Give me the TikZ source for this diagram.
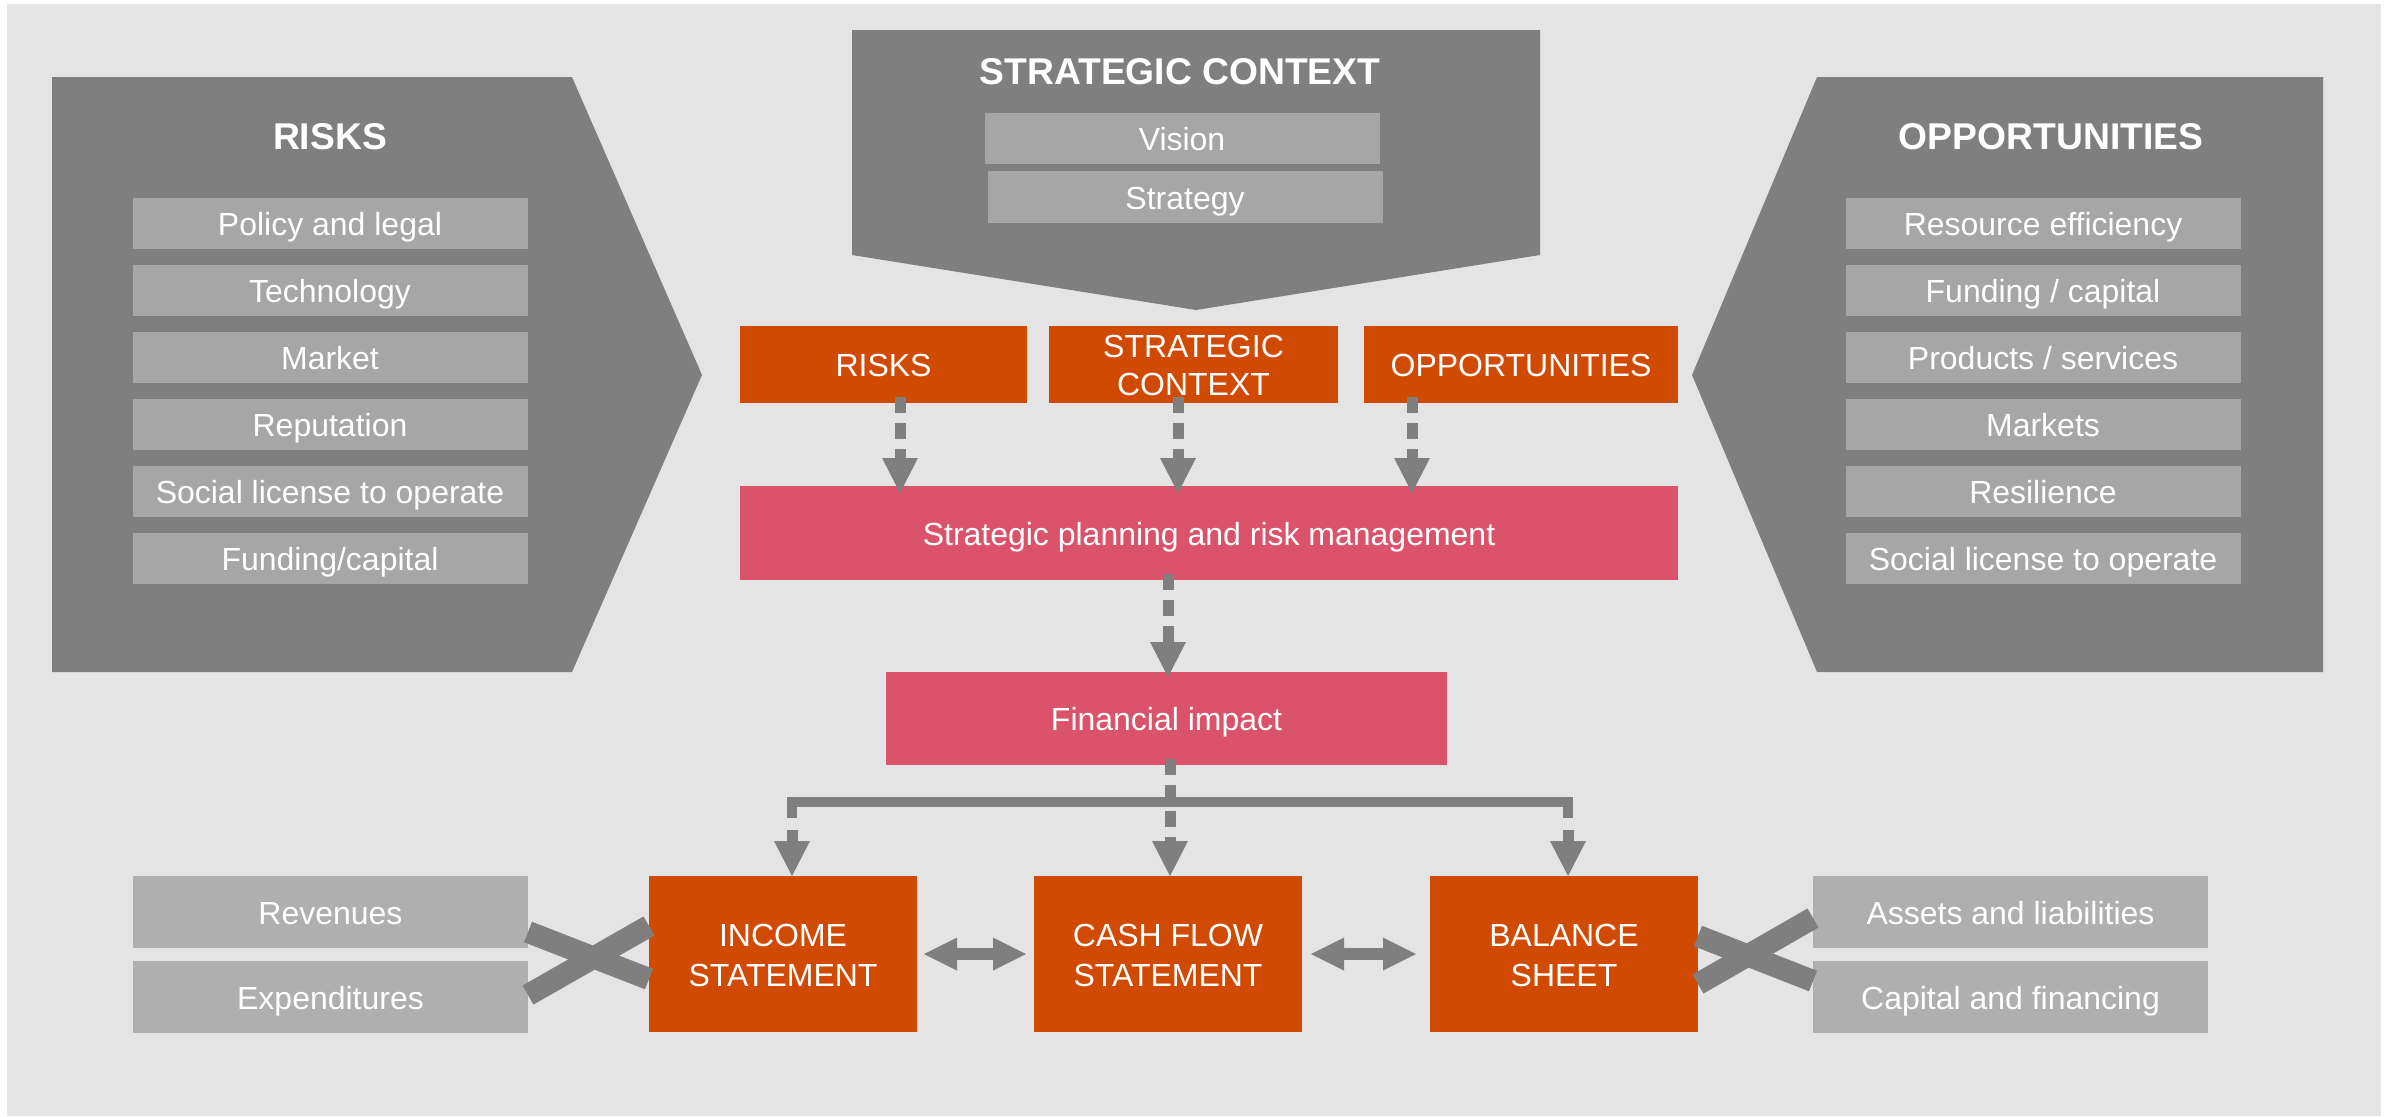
\documentclass[tikz,border=0pt]{standalone}
\usepackage{fontspec}
\setmainfont{Liberation Sans}
\usetikzlibrary{positioning,arrows.meta}

\definecolor{bgGrey}{HTML}{E4E4E4}
\definecolor{darkGrey}{HTML}{7F7F7F}
\definecolor{itemGrey}{HTML}{A6A6A6}
\definecolor{lightGrey}{HTML}{AFAFAF}
\definecolor{pwcOrange}{HTML}{D04A02}
\definecolor{rosePink}{HTML}{DB536A}

\newcommand{\diagfont}{\fontsize{9.1pt}{10.8pt}\selectfont}
\newcommand{\diagheadfont}{\fontsize{10.6pt}{12pt}\selectfont\bfseries}

\begin{document}
\begin{tikzpicture}[
    x=0.1mm, y=-0.1mm,
    txt/.style={text=white, font=\diagfont, align=center, inner sep=0pt, outer sep=0pt,
      text height=8.2pt, text depth=1.2pt},
    twoline/.style={text height=19pt},
    headtext/.style={text=white, font=\diagheadfont, inner sep=0pt, outer sep=0pt,
      text height=9.5pt, text depth=1.4pt},
    item/.style={txt, fill=itemGrey, minimum width=39.5mm, minimum height=5.1mm},
    litem/.style={txt, fill=lightGrey, minimum width=39.5mm, minimum height=7.2mm},
    obox/.style={txt, fill=pwcOrange, minimum height=7.7mm},
    pbox/.style={txt, fill=rosePink},
    fbox/.style={txt, fill=pwcOrange, minimum width=26.8mm, minimum height=15.6mm,
      font=\fontsize{9.1pt}{11.2pt}\selectfont, text height=19.4pt},
    darr/.style={draw=darkGrey, line width=1.1mm, dash pattern=on 1.6mm off 1mm,
      -{Triangle[width=3.6mm, length=3.5mm, line width=0pt]}},
    dblarr/.style={draw=darkGrey, line width=1.2mm,
      {Triangle[width=3.3mm, length=3.3mm, line width=0pt]}-{Triangle[width=3.3mm, length=3.3mm, line width=0pt]}},
    bracketbar/.style={draw=darkGrey, line width=1.05mm, line join=miter},
    crossline/.style={draw=darkGrey, line width=2.2mm}
  ]
    % page and backdrop
    \useasboundingbox (0,0) rectangle (2395,1116);
    \fill[bgGrey] (7,4) rectangle (2381,1116);

    % risks panel
    \fill[darkGrey] (52,77) -- (572,77) -- (702,375) -- (572,672) -- (52,672) -- cycle;
    \node[headtext] (risks) at (330,135) {RISKS};
    \node[item] (pol) at (330,223.5) {Policy and legal};
    \node[item, below=1.6mm of pol] (tec) {Technology};
    \node[item, below=1.6mm of tec] (mkt) {Market};
    \node[item, below=1.6mm of mkt] (rep) {Reputation};
    \node[item, below=1.6mm of rep] (slo) {Social license to operate};
    \node[item, below=1.6mm of slo] (fun) {Funding/capital};

    % opportunities panel
    \fill[darkGrey] (2323,77) -- (1817,77) -- (1692,375) -- (1817,672) -- (2323,672) -- cycle;
    \node[headtext] (opps) at (2051,135) {OPPORTUNITIES};
    \node[item] (res) at (2043,223.5) {Resource efficiency};
    \node[item, below=1.6mm of res] (fnd) {Funding / capital};
    \node[item, below=1.6mm of fnd] (prd) {Products / services};
    \node[item, below=1.6mm of prd] (mks) {Markets};
    \node[item, below=1.6mm of mks] (rsl) {Resilience};
    \node[item, below=1.6mm of rsl] (sl2) {Social license to operate};

    % strategic context banner
    \fill[darkGrey] (852,30) -- (1540,30) -- (1540,255) -- (1196,310) -- (852,255) -- cycle;
    \node[headtext] (strat) at (1180,70) {STRATEGIC CONTEXT};
    \node[item] (vis) at (1182,138) {Vision};
    \node[item, minimum height=5.2mm] (stg) at (1185,197) {Strategy};

    % middle column
    \node[obox, minimum width=28.7mm] (ork) at (883.5,364.5) {RISKS};
    \node[obox, twoline, minimum width=28.9mm, right=2.2mm of ork] (osc) {STRATEGIC\\CONTEXT};
    \node[obox, minimum width=31.4mm, right=2.6mm of osc] (oop) {OPPORTUNITIES};
    \node[pbox, minimum width=93.8mm, minimum height=9.4mm] (spl) at (1209,533) {Strategic planning and risk management};
    \node[pbox, minimum width=56.1mm, minimum height=9.3mm] (fin) at (1166.5,718.5) {Financial impact};

    % statements row
    \node[fbox] (inc) at (783,954) {INCOME\\STATEMENT};
    \node[fbox, right=11.7mm of inc] (cfs) {CASH FLOW\\STATEMENT};
    \node[fbox, right=12.8mm of cfs] (bal) {BALANCE\\SHEET};
    \node[litem] (rev) at (330.5,912) {Revenues};
    \node[litem, below=1.3mm of rev] (exs) {Expenditures};
    \node[litem] (ast) at (2010.5,912) {Assets and liabilities};
    \node[litem, below=1.3mm of ast] (cap) {Capital and financing};

    % dashed flows
    \coordinate (rkA) at ([xshift=1.65mm]ork.south);
    \coordinate (scA) at ([xshift=-1.55mm]osc.south);
    \coordinate (opA) at ([xshift=-10.9mm]oop.south);
    \coordinate (spA) at ([xshift=-4.1mm]spl.south);
    \coordinate (fiA) at ([xshift=0.35mm]fin.south);
    \draw[darr, shorten <=-0.6mm, shorten >=-0.7mm] (rkA) -- (rkA |- spl.north);
    \draw[darr, shorten <=-0.6mm, shorten >=-0.7mm] (scA) -- (scA |- spl.north);
    \draw[darr, shorten <=-0.6mm, shorten >=-0.7mm] (opA) -- (opA |- spl.north);
    \draw[darr, shorten <=-0.6mm, shorten >=-0.5mm] (spA) -- (spA |- fin.north);

    % bracket to the statements
    \coordinate (brL) at (792,830);
    \coordinate (brR) at (1568,830);
    \draw[bracketbar] (792,818) -- (792,802) -- (1568,802) -- (1568,818);
    \draw[darr, shorten <=-0.6mm] (fiA) -- (fiA |- cfs.north);
    \draw[darr] (brL) -- (brL |- inc.north);
    \draw[darr] (brR) -- (brR |- bal.north);

    % links between statements
    \draw[dblarr] ([xshift=0.7mm]inc.east) -- ([xshift=-0.8mm]cfs.west);
    \draw[dblarr] ([xshift=0.9mm]cfs.east) -- ([xshift=-1.4mm]bal.west);

    % crossed feeds
    \draw[crossline] ([yshift=-2mm]rev.east) -- ([yshift=-2.5mm]inc.west);
    \draw[crossline] ([yshift=0.2mm]exs.east) -- ([yshift=2.8mm]inc.west);
    \draw[crossline] ([yshift=1.8mm]bal.east) -- ([yshift=1.6mm]cap.west);
    \draw[crossline] ([yshift=-3mm]bal.east) -- ([yshift=-0.6mm]ast.west);
\end{tikzpicture}
\end{document}
